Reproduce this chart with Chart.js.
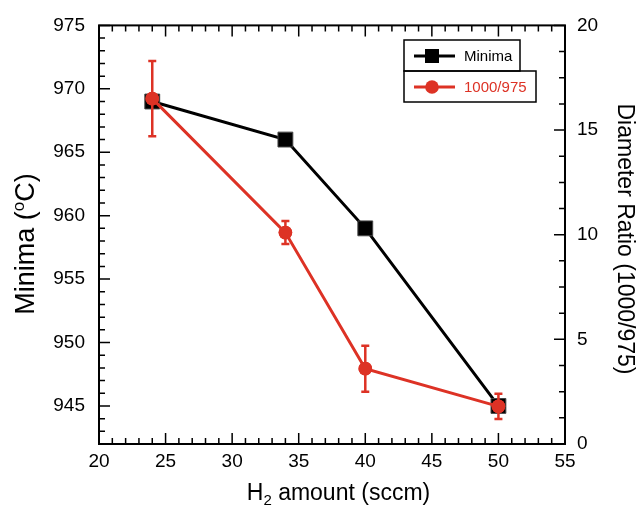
<!DOCTYPE html>
<html>
<head>
<meta charset="utf-8">
<script src="https://cdn.jsdelivr.net/npm/chart.js@4"></script>
<style>
  html, body { margin: 0; padding: 0; background: #fff; }
  #wrap { width: 641px; height: 505px; }
</style>
</head>
<body>
<div id="wrap"><canvas id="chart" width="641" height="505"></canvas></div>
<script>
// values
const h2Amount = [24, 34, 40, 50];
const minima = [969, 966, 959, 945];
const ratio = [16.5, 10.1, 3.6, 1.8];
const ratioErr = [1.8, 0.55, 1.1, 0.6];

const xTicks = [20, 25, 30, 35, 40, 45, 50, 55];
const leftTicks = [945, 950, 955, 960, 965, 970, 975];
const rightTicks = [0, 5, 10, 15, 20];

const FONT = "'Liberation Sans', Arial, Helvetica, sans-serif";
const RED = '#dd3225';

// inward ticks, frame, error bars, legend and axis titles
const decorations = {
    id: 'decorations',
    afterDatasetsDraw(chart) {
        const ctx = chart.ctx;
        const xs = chart.scales.x, yl = chart.scales.y, yr = chart.scales.y2;
        const meta = chart.getDatasetMeta(1);
        ctx.save();
        ctx.strokeStyle = RED;
        ctx.lineWidth = 2.5;
        ratio.forEach((v, i) => {
            const px = xs.getPixelForValue(h2Amount[i]);
            const top = yr.getPixelForValue(v + ratioErr[i]);
            const bot = yr.getPixelForValue(v - ratioErr[i]);
            ctx.beginPath();
            ctx.moveTo(px, top); ctx.lineTo(px, bot);
            ctx.moveTo(px - 4, top); ctx.lineTo(px + 4, top);
            ctx.moveTo(px - 4, bot); ctx.lineTo(px + 4, bot);
            ctx.stroke();
        });
        // redraw circles on top of bars
        meta.data.forEach(pt => pt.draw(ctx, chart.chartArea));
        ctx.restore();
    },
    afterDraw(chart) {
        const ctx = chart.ctx;
        const a = chart.chartArea;
        const xs = chart.scales.x, yl = chart.scales.y, yr = chart.scales.y2;
        const MAJ = 11, MIN = 6;
        ctx.save();
        ctx.strokeStyle = '#000';
        ctx.lineWidth = 1.5;
        ctx.beginPath();
        for (let v = 20; v <= 55; v += 1) {
            const px = xs.getPixelForValue(v);
            const len = xTicks.includes(v) ? MAJ : MIN;
            ctx.moveTo(px, a.bottom); ctx.lineTo(px, a.bottom - len);
            ctx.moveTo(px, a.top); ctx.lineTo(px, a.top + len);
        }
        for (let v = 942; v <= 975; v += 1) {
            const py = yl.getPixelForValue(v);
            const len = leftTicks.includes(v) ? MAJ : MIN;
            ctx.moveTo(a.left, py); ctx.lineTo(a.left + len, py);
        }
        for (let v = 0; v <= 20; v += 1.25) {
            const py = yr.getPixelForValue(v);
            const len = rightTicks.includes(v) ? MAJ : MIN;
            ctx.moveTo(a.right, py); ctx.lineTo(a.right - len, py);
        }
        ctx.stroke();
        ctx.lineWidth = 2;
        ctx.strokeRect(a.left, a.top, a.right - a.left, a.bottom - a.top);

        // legend
        const ds = chart.data.datasets;
        ctx.lineWidth = 1.5;
        ctx.strokeRect(404, 40, 116, 31);
        ctx.strokeRect(404, 71, 132, 31);
        ctx.font = '15px ' + FONT;
        ctx.textBaseline = 'middle';
        ctx.textAlign = 'left';
        // Minima row
        ctx.strokeStyle = '#000'; ctx.lineWidth = 3;
        ctx.beginPath(); ctx.moveTo(414, 56); ctx.lineTo(455, 56); ctx.stroke();
        ctx.fillStyle = '#000';
        ctx.fillRect(425, 49, 14, 14);
        ctx.fillText(ds[0].label, 464, 57);
        // ratio row
        ctx.strokeStyle = RED; ctx.fillStyle = RED;
        ctx.beginPath(); ctx.moveTo(414, 87); ctx.lineTo(455, 87); ctx.stroke();
        ctx.beginPath(); ctx.arc(432, 87, 6.8, 0, Math.PI * 2); ctx.fill();
        ctx.fillText(ds[1].label, 464, 88);

        // axis titles
        ctx.fillStyle = '#000';
        ctx.textBaseline = 'alphabetic';
        // x title with subscript
        ctx.font = '23px ' + FONT;
        const p1 = 'H', p3 = ' amount (sccm)';
        const w1 = ctx.measureText(p1).width, w3 = ctx.measureText(p3).width;
        ctx.font = '15px ' + FONT;
        const w2 = ctx.measureText('2').width;
        let sx = 338.5 - (w1 + w2 + w3) / 2;
        ctx.font = '23px ' + FONT;
        ctx.fillText(p1, sx, 500);
        ctx.font = '15px ' + FONT;
        ctx.fillText('2', sx + w1, 505);
        ctx.font = '23px ' + FONT;
        ctx.fillText(p3, sx + w1 + w2, 500);

        // left title with superscript
        ctx.save();
        ctx.translate(33.5, 244);
        ctx.rotate(-Math.PI / 2);
        ctx.font = '27px ' + FONT;
        const l1 = 'Minima (', l3 = 'C)';
        const lw1 = ctx.measureText(l1).width, lw3 = ctx.measureText(l3).width;
        ctx.font = '17px ' + FONT;
        const lw2 = ctx.measureText('o').width;
        let lx = -(lw1 + lw2 + lw3) / 2;
        ctx.font = '27px ' + FONT;
        ctx.fillText(l1, lx, 0);
        ctx.font = '17px ' + FONT;
        ctx.fillText('o', lx + lw1, -10);
        ctx.font = '27px ' + FONT;
        ctx.fillText(l3, lx + lw1 + lw2, 0);
        ctx.restore();

        // right title
        ctx.save();
        ctx.translate(618, 239);
        ctx.rotate(Math.PI / 2);
        ctx.font = '23px ' + FONT;
        ctx.textAlign = 'center';
        ctx.fillText('Diameter Ratio (1000/975)', 0, 0);
        ctx.restore();
        ctx.restore();
    }
};

const tickFont = { family: FONT, size: 19 };

new Chart(document.getElementById('chart'), {
    type: 'line',
    data: {
        datasets: [{
            label: 'Minima',
            data: h2Amount.map((x, i) => ({ x: x, y: minima[i] })),
            yAxisID: 'y',
            borderColor: '#000',
            borderWidth: 3,
            backgroundColor: '#000',
            pointStyle: 'rect',
            pointRadius: 10.5,
            pointBorderColor: '#444',
            pointBorderWidth: 1,
            order: 1
        }, {
            label: '1000/975',
            data: h2Amount.map((x, i) => ({ x: x, y: ratio[i] })),
            yAxisID: 'y2',
            borderColor: RED,
            borderWidth: 3,
            backgroundColor: RED,
            pointStyle: 'circle',
            pointRadius: 6.8,
            pointBorderWidth: 0,
            order: 0
        }]
    },
    options: {
        responsive: false,
        animation: false,
        layout: { padding: { top: 22, left: 0, right: 0, bottom: 0 } },
        plugins: { legend: { display: false }, tooltip: { enabled: false } },
        scales: {
            x: {
                type: 'linear', min: 20, max: 55,
                afterBuildTicks: s => { s.ticks = xTicks.map(v => ({ value: v })); },
                afterFit: s => { s.height = 61; },
                grid: { display: false, drawTicks: false },
                border: { display: false },
                ticks: { font: tickFont, color: '#000', padding: 6, maxRotation: 0, autoSkip: false }
            },
            y: {
                position: 'left', min: 942, max: 975,
                afterBuildTicks: s => { s.ticks = leftTicks.map(v => ({ value: v })); },
                afterFit: s => { s.width = 99; },
                grid: { display: false, drawTicks: false },
                border: { display: false },
                ticks: { font: tickFont, color: '#000', padding: 14 }
            },
            y2: {
                position: 'right', min: 0, max: 20,
                afterBuildTicks: s => { s.ticks = rightTicks.map(v => ({ value: v })); },
                afterFit: s => { s.width = 76; },
                grid: { display: false, drawTicks: false },
                border: { display: false },
                ticks: { font: tickFont, color: '#000', padding: 12 }
            }
        }
    },
    plugins: [decorations]
});
</script>
</body>
</html>
